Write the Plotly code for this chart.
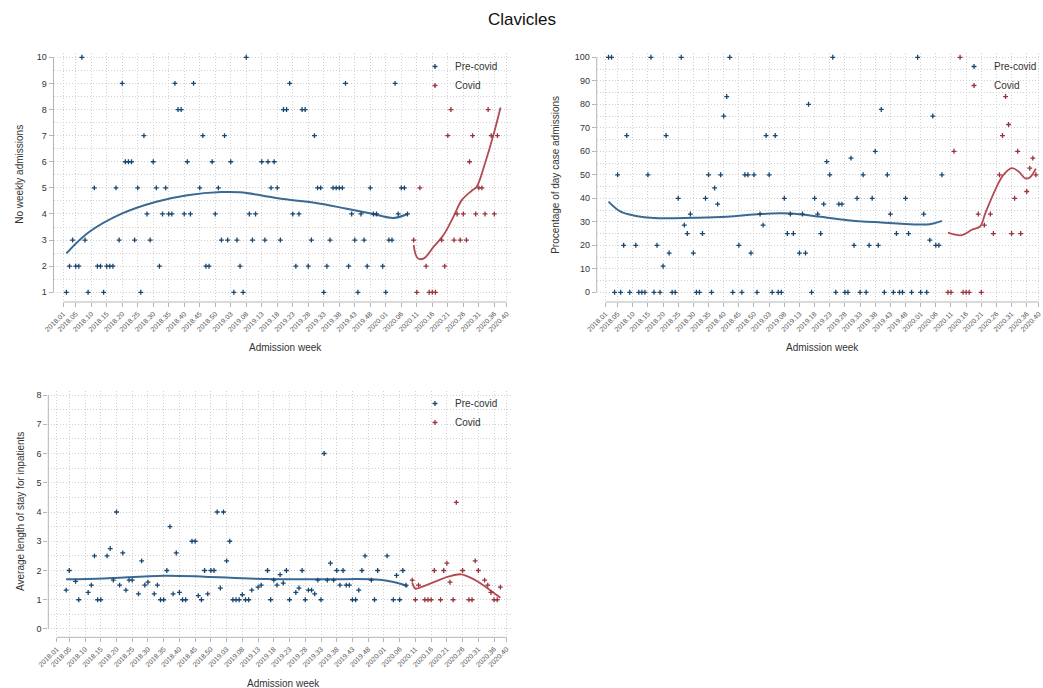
import plotly.graph_objects as go

W, H = 1043, 688

# ---------------- axis ticks ----------------
tick_weeks = [1, 5, 10, 15, 20, 25, 30, 35, 40, 45, 50, 55, 60, 65, 70, 75, 80, 85, 90, 95,
              100, 105, 110, 115, 120, 125, 130, 135, 140, 144]
tick_labels = ["2018.01", "2018.05", "2018.10", "2018.15", "2018.20", "2018.25", "2018.30",
               "2018.35", "2018.40", "2018.45", "2018.50", "2019.03", "2019.08", "2019.13",
               "2019.18", "2019.23", "2019.28", "2019.33", "2019.38", "2019.43", "2019.48",
               "2020.01", "2020.06", "2020.11", "2020.16", "2020.21", "2020.26", "2020.31",
               "2020.36", "2020.40"]

# ---------------- panel 1: weekly admissions ----------------
adm_pre_week = [2, 3, 4, 5, 6, 7, 8, 9,
                11, 12, 13, 14, 15, 16, 17, 18, 19, 20, 21, 22, 23, 24, 25, 26, 27, 28, 29, 30,
                31, 32, 33, 34, 35, 36, 37, 38, 39, 40, 41, 42, 43,
                45, 46, 47, 48, 49, 50, 51, 52, 53, 54, 55, 56, 57, 58, 59, 60, 61, 62, 63,
                65, 66, 67, 68, 69, 70, 71, 72, 73, 74, 75, 76, 77, 78, 79, 80, 81, 82, 83, 84,
                85, 86, 87, 88, 89, 90, 91, 92, 93, 94, 95, 96, 97, 98, 99, 100, 101, 102,
                104, 105, 106, 107, 108, 109, 110, 111, 112]
adm_pre_val = [1, 2, 3, 2, 2, 10, 3, 1,
               5, 2, 2, 1, 2, 2, 2, 5, 3, 9, 6, 6, 6, 3, 5, 1, 7, 4, 3, 6,
               5, 2, 4, 5, 4, 4, 9, 8, 8, 4, 6, 4, 9,
               5, 7, 2, 2, 6, 4, 5, 3, 7, 3, 6, 1, 3, 2, 1, 10, 4, 3, 4,
               6, 3, 6, 5, 6, 5, 3, 8, 8, 9, 4, 2, 4, 8, 8, 2, 3, 7, 5, 5,
               1, 2, 3, 5, 5, 5, 5, 9, 2, 4, 3, 1, 4, 3, 2, 5, 4, 4,
               2, 1, 3, 3, 9, 4, 5, 5, 4]
adm_cov_week = [114, 115, 116, 118, 119, 120, 121, 123, 124, 125, 126, 127, 128, 129, 130,
                131, 132, 133, 134, 135, 136, 137, 138, 139, 140, 141]
adm_cov_val = [3, 1, 5, 2, 1, 1, 1, 3, 2, 7, 8, 3, 4, 3, 4,
               3, 6, 7, 4, 5, 5, 4, 8, 7, 4, 7]
adm_pre_fit_week = [2, 9, 20, 31, 41, 52, 58, 65, 72, 82, 92, 101, 107.5, 112]
adm_pre_fit_val = [2.49, 3.28, 4.02, 4.47, 4.72, 4.84, 4.83, 4.71, 4.57, 4.43, 4.21, 4.0, 3.85, 4.0]
adm_cov_fit_week = [114, 115.3, 117.3, 120.4, 123.6, 126.8, 129.5, 132.7, 134.3, 137, 139.7, 142]
adm_cov_fit_val = [2.81, 2.30, 2.30, 2.74, 3.19, 3.89, 4.53, 4.89, 5.04, 5.94, 7.02, 8.08]

# ---------------- panel 2: percentage day case ----------------
day_pre_week = adm_pre_week
day_pre_val = [100, 100, 0, 50, 0, 20, 66.7, 0, 20, 0,
               0, 0, 50, 100, 0, 20, 0, 11.1, 66.7, 16.7,
               0, 0, 40, 100, 28.6, 25, 33.3, 16.7, 0, 0,
               25, 40, 50, 0, 44.4, 37.5, 50, 75, 83.3, 100,
               0, 20, 0, 50, 50, 16.7, 50, 0, 33.3, 28.6,
               66.7, 50, 0, 66.7, 0, 0, 40, 25, 33.3, 25,
               16.7, 33.3, 16.7, 80, 0, 40, 33.3, 25, 37.5, 55.6,
               50, 100, 0, 37.5, 37.5, 0, 0, 57.1, 20, 40,
               0, 50, 0, 20, 40, 60, 20, 77.8, 0, 50,
               33.3, 0, 25, 0, 0, 40, 25, 0, 100, 0,
               33.3, 0, 22.2, 75, 20, 20, 50]
day_cov_week = [114, 115, 116, 118, 119, 120, 121, 124, 125, 126, 128, 129, 131, 132, 133,
                134, 135, 136, 137, 138, 140, 141, 142, 143]
day_cov_val = [0, 0, 60, 100, 0, 0, 0, 33.3, 0, 28.6, 33.3, 25, 50, 66.7, 83.3,
               71.4, 25, 40, 60, 25, 42.9, 52.8, 57.1, 50]
day_pre_fit_week = [2, 6, 11, 17, 30, 41, 52, 59, 66, 72, 81, 92, 103, 108, 112]
day_pre_fit_val = [38.6, 34.3, 32.5, 31.6, 31.7, 32.1, 33.3, 33.6, 33.1, 32.1, 30.7, 29.7, 28.9, 29.0, 30.4]
day_cov_fit_week = [114, 118.6, 121.9, 124.6, 126.3, 127.9, 130.1, 132.3, 135.1, 137.3, 139.5, 141.1, 143]
day_cov_fit_val = [25.4, 24.3, 26.6, 28.0, 33.6, 38.6, 45.0, 50.0, 52.8, 51.4, 48.5, 49.0, 52.6]

# ---------------- panel 3: average length of stay ----------------
los_pre_week = [4, 5, 7, 8, 11, 12, 13, 14, 15, 17, 18, 19, 20, 21, 22, 23, 24, 25, 27, 28,
                29, 30, 32, 33, 34, 35, 36, 37, 38, 39, 40, 41, 42, 44, 45, 46, 47, 48, 49, 50,
                51, 52, 53, 54, 55, 56, 57, 58, 59, 60, 61, 62, 63, 65, 66, 68, 69, 70, 71, 72,
                73, 74, 75, 77, 78, 79, 80, 81, 82, 83, 84, 85, 86, 87, 88, 89, 90, 91, 92, 93,
                94, 95, 96, 97, 98, 99, 101, 102, 103, 106, 108, 109, 110, 111, 112]
los_pre_val = [1.33, 2.0, 1.63, 1.0, 1.25, 1.5, 2.5, 1.0, 1.0, 2.5, 2.75, 1.67, 4.0, 1.5, 2.6, 1.33, 1.67, 1.67, 1.2, 2.33,
               1.5, 1.6, 1.2, 1.5, 1.0, 1.0, 2.0, 3.5, 1.2, 2.6, 1.25, 1.0, 1.0, 3.0, 3.0, 1.14, 1.0, 2.0, 1.2, 2.0,
               2.0, 4.0, 1.4, 4.0, 2.33, 3.0, 1.0, 1.0, 1.0, 1.17, 1.0, 1.0, 1.33, 1.43, 1.5, 2.0, 1.0, 1.67, 1.5, 1.86,
               1.57, 2.0, 1.0, 1.25, 1.4, 2.0, 1.0, 1.33, 1.33, 1.2, 1.67, 1.0, 6.0, 1.67, 2.25, 1.67, 2.0, 1.5, 2.0, 1.5,
               1.5, 1.0, 1.0, 1.33, 2.0, 2.5, 1.67, 1.0, 2.0, 2.5, 1.0, 1.83, 1.0, 2.0, 1.5]
los_cov_week = [114, 115, 116, 118, 119, 120, 121, 123, 124, 125, 126, 127, 128, 130, 132, 133,
                134, 135, 137, 138, 139, 140, 141, 142]
los_cov_val = [1.67, 1.0, 1.5, 1.0, 1.0, 1.0, 2.0, 1.0, 2.0, 2.25, 1.6, 1.0, 4.33, 2.0, 1.0, 1.0,
               2.33, 2.0, 1.67, 1.5, 1.25, 1.0, 1.0, 1.43]
los_pre_fit_week = [4, 16, 35, 48, 64, 85, 101, 106, 110.5, 112.5]
los_pre_fit_val = [1.70, 1.73, 1.82, 1.79, 1.72, 1.70, 1.70, 1.65, 1.54, 1.45]
los_cov_fit_week = [114, 115, 117, 121, 125.5, 129.5, 133, 136, 139, 142]
los_cov_fit_val = [1.58, 1.38, 1.44, 1.61, 1.79, 1.87, 1.73, 1.54, 1.31, 1.07]

# ---------------- styling ----------------
FONT = "Arial, 'Liberation Sans', sans-serif"
BLUE_M, RED_M = "#1a476f", "#9a343c"
BLUE_L, RED_L = "#3a6a94", "#b34a53"
GRID = "#d0d0d0"
GRID_DASH = "1px,2px"
AXC = "#b5b5b5"

panels = [
    dict(n="", xdom=(53.5, 512), ydom=(53, 302), xr=(-2.16, 145.7), yr=(0.628, 10.165),
         ylo=1, yhi=10, dtick=1, minor=0.5, ytitle="No weekly admissions", ytx=20,
         xtitle_xy=(285, 347), legend_xy=(415, 52),
         data=(adm_pre_week, adm_pre_val, adm_cov_week, adm_cov_val,
               adm_pre_fit_week, adm_pre_fit_val, adm_cov_fit_week, adm_cov_fit_val)),
    dict(n="2", xdom=(596.7, 1041), ydom=(53, 302), xr=(-1.9, 144.7), yr=(-4.13, 101.83),
         ylo=0, yhi=100, dtick=10, minor=5, ytitle="Procentage of day case admissions", ytx=556,
         xtitle_xy=(822, 347), legend_xy=(954, 52),
         data=(day_pre_week, day_pre_val, day_cov_week, day_cov_val,
               day_pre_fit_week, day_pre_fit_val, day_cov_fit_week, day_cov_fit_val)),
    dict(n="3", xdom=(48.3, 512), ydom=(391, 637.3), xr=(-1.67, 145.7), yr=(-0.284, 8.137),
         ylo=0, yhi=8, dtick=1, minor=0.5, ytitle="Average length of stay for inpatients", ytx=20,
         xtitle_xy=(283, 683), legend_xy=(415, 389),
         data=(los_pre_week, los_pre_val, los_cov_week, los_cov_val,
               los_pre_fit_week, los_pre_fit_val, los_cov_fit_week, los_cov_fit_val)),
]

fig = go.Figure()
shapes, annotations = [], []
layout = dict(width=W, height=H, margin=dict(l=0, r=0, t=0, b=0, autoexpand=False),
              paper_bgcolor="white", plot_bgcolor="white",
              font=dict(family=FONT, color="#333"))


def marker(color):
    return dict(symbol="cross-thin", size=3.5, color=color, line=dict(width=1.3, color=color))


for p in panels:
    n = p["n"]
    xa, ya = "x" + n, "y" + n
    lg = "legend" + n
    pw, pv, cw, cv, pfw, pfv, cfw, cfv = p["data"]
    fig.add_trace(go.Scatter(x=pfw, y=pfv, xaxis=xa, yaxis=ya, mode="lines",
                             line=dict(color=BLUE_L, width=2, shape="spline", smoothing=1.0),
                             showlegend=False, hoverinfo="skip"))
    fig.add_trace(go.Scatter(x=cfw, y=cfv, xaxis=xa, yaxis=ya, mode="lines",
                             line=dict(color=RED_L, width=1.8, shape="spline", smoothing=1.0),
                             showlegend=False, hoverinfo="skip"))
    fig.add_trace(go.Scatter(x=pw, y=pv, xaxis=xa, yaxis=ya, mode="markers", name="Pre-covid",
                             marker=marker(BLUE_M), legend=lg))
    fig.add_trace(go.Scatter(x=cw, y=cv, xaxis=xa, yaxis=ya, mode="markers", name="Covid",
                             marker=marker(RED_M), legend=lg))

    xd0, xd1 = p["xdom"]
    yd0, yd1 = p["ydom"]
    xr0, xr1 = p["xr"]
    yr0, yr1 = p["yr"]
    layout["xaxis" + n] = dict(
        domain=[xd0 / W, xd1 / W], range=[xr0, xr1], anchor=ya,
        tickmode="array", tickvals=tick_weeks, ticktext=tick_labels, tickangle=-45,
        tickfont=dict(size=7, color="#555"), ticks="outside", ticklen=4, tickcolor=AXC,
        showgrid=True, gridcolor=GRID, griddash=GRID_DASH, gridwidth=1,
        zeroline=False, showline=False, automargin=False, fixedrange=True)
    layout["yaxis" + n] = dict(
        domain=[1 - yd1 / H, 1 - yd0 / H], range=[yr0, yr1], anchor=xa,
        tickmode="linear", tick0=0, dtick=p["dtick"],
        tickfont=dict(size=9, color="#333"), ticks="outside", ticklen=4, tickcolor=AXC,
        showgrid=True, gridcolor=GRID, griddash=GRID_DASH, gridwidth=1,
        minor=dict(dtick=p["minor"], showgrid=True, gridcolor=GRID, griddash=GRID_DASH, ticks=""),
        zeroline=False, showline=False, automargin=False, fixedrange=True)

    def wx(w):
        return xd0 + (w - xr0) / (xr1 - xr0) * (xd1 - xd0)

    def vy(v):
        return yd1 - (v - yr0) / (yr1 - yr0) * (yd1 - yd0)

    # axis lines spanning only the tick range
    shapes.append(dict(type="line", xref="paper", yref="paper",
                       x0=wx(tick_weeks[0]) / W, x1=wx(tick_weeks[-1]) / W,
                       y0=1 - yd1 / H, y1=1 - yd1 / H, line=dict(color=AXC, width=1)))
    shapes.append(dict(type="line", xref="paper", yref="paper",
                       x0=xd0 / W, x1=xd0 / W,
                       y0=1 - vy(p["ylo"]) / H, y1=1 - vy(p["yhi"]) / H,
                       line=dict(color=AXC, width=1)))

    annotations.append(dict(text=p["ytitle"], textangle=-90, xref="paper", yref="paper",
                            x=p["ytx"] / W, y=1 - (vy(p["ylo"]) + vy(p["yhi"])) / 2 / H,
                            showarrow=False, xanchor="center", yanchor="middle",
                            font=dict(size=10, color="#333")))
    tx, ty = p["xtitle_xy"]
    annotations.append(dict(text="Admission week", xref="paper", yref="paper",
                            x=tx / W, y=1 - ty / H, showarrow=False,
                            xanchor="center", yanchor="middle",
                            font=dict(size=10, color="#333")))
    lx, ly = p["legend_xy"]
    layout[lg] = dict(x=lx / W, y=1 - ly / H, xanchor="left", yanchor="top",
                      bgcolor="rgba(0,0,0,0)", font=dict(size=10, color="#333"),
                      itemwidth=30, tracegroupgap=0)

annotations.append(dict(text="Clavicles", xref="paper", yref="paper", x=0.5, y=1 - 19 / H,
                        showarrow=False, xanchor="center", yanchor="middle",
                        font=dict(size=17, color="#111")))
layout["shapes"] = shapes
layout["annotations"] = annotations
layout["hovermode"] = False
fig.update_layout(**layout)
fig.write_html("out.html", config={"displayModeBar": False},
               post_script="document.body.style.margin='0px';document.body.style.overflow='hidden';")
